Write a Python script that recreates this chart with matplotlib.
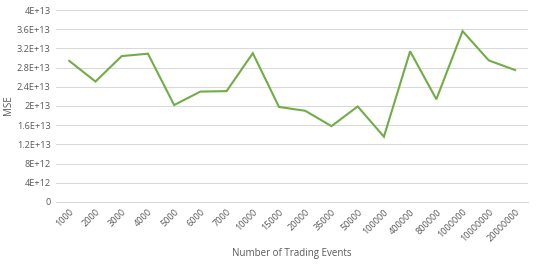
import matplotlib.pyplot as plt

# Data
events = ["1000", "2000", "3000", "4000", "5000", "6000", "7000", "10000", "15000",
          "20000", "35000", "50000", "100000", "400000", "800000", "1000000",
          "10000000", "20000000"]
mse = [2.94e13, 2.51e13, 3.04e13, 3.09e13, 2.02e13, 2.30e13, 2.31e13, 3.10e13, 1.98e13,
       1.90e13, 1.58e13, 1.99e13, 1.36e13, 3.14e13, 2.14e13, 3.56e13, 2.95e13, 2.75e13]
yticks = [0, 4e12, 8e12, 1.2e13, 1.6e13, 2e13, 2.4e13, 2.8e13, 3.2e13, 3.6e13, 4e13]
ytick_labels = ["0", "4E+12", "8E+12", "1.2E+13", "1.6E+13", "2E+13", "2.4E+13",
                "2.8E+13", "3.2E+13", "3.6E+13", "4E+13"]

plt.rcParams['font.family'] = ['Open Sans', 'DejaVu Sans']
text_color = '#595959'

fig = plt.figure(figsize=(5.4, 2.64), dpi=100)
ax = fig.add_axes([0.104, 0.235, 0.874, 0.727])

x = range(len(events))
ax.plot(x, mse, color='#70AD47', linewidth=1.5, solid_joinstyle='miter')

ax.set_xlim(-0.5, len(events) - 0.5)
ax.set_ylim(0, 4e13)
ax.set_yticks(yticks)
ax.set_yticklabels(ytick_labels)
ax.set_xticks(list(x))
ax.set_xticklabels(events, rotation=45, ha='right', rotation_mode='anchor')

ax.grid(axis='y', color='#D9D9D9', linewidth=0.75)
ax.set_axisbelow(True)
for s in ax.spines.values():
    s.set_visible(False)
ax.spines['bottom'].set_visible(True)
ax.spines['bottom'].set_color('#D9D9D9')
ax.spines['bottom'].set_linewidth(0.75)
ax.tick_params(length=0, labelsize=6.6, colors=text_color, pad=4)

ax.set_xlabel("Number of Trading Events", fontsize=7, color=text_color, labelpad=3)
# y label placed by hand so it stays inside the figure
fig.text(0.016, 0.6, "MSE", rotation=90, fontsize=7, color=text_color,
         ha='center', va='center')

fig.savefig("out.png", dpi=100)
